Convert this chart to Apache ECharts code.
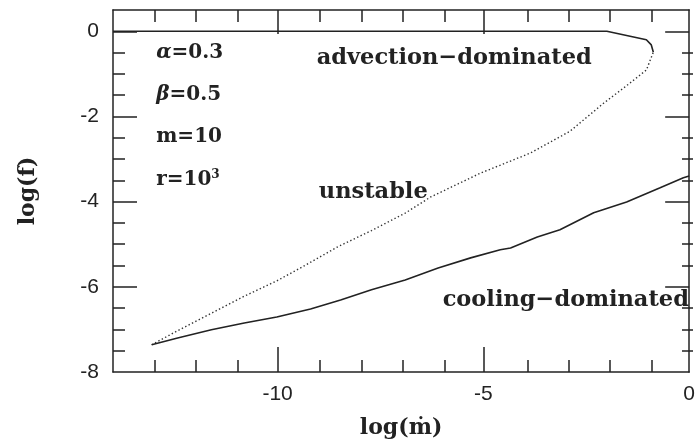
<!DOCTYPE html>
<html>
<head>
<meta charset="utf-8">
<script src="https://cdn.jsdelivr.net/npm/echarts@6/dist/echarts.min.js"></script>
<style>
  html, body { margin: 0; padding: 0; background: #fff; }
  #chart { width: 698px; height: 444px; }
</style>
</head>
<body>
<div id="chart"></div>
<script>
// Axis ranges and tick positions
const xRange = [-14, 0];
const yRange = [-8, 0.5];
const xTickLabels = [-10, -5, 0];
const xMajorTicks = [-10, -5];
const xMinorTicks = [-13, -12, -11, -9, -8, -7, -6, -4, -3, -2, -1];
const yTickLabels = [-8, -6, -4, -2, 0];
const yMajorTicks = [-6, -4, -2, 0];
const yMinorTicks = [-7.5, -7, -6.5, -5.5, -5, -4.5, -3.5, -3, -2.5, -1.5, -1, -0.5];

// Upper boundary (solid): edge of the advection-dominated region
const advectionEdge = [
  [-14, 0], [-2.0, 0], [-1.04, -0.2], [-0.92, -0.32], [-0.87, -0.49]
];
// Middle boundary (dotted): edge of the unstable region
const unstableEdge = [
  [-13.06, -7.36], [-12.43, -7.03], [-11.61, -6.62], [-10.81, -6.22],
  [-10.02, -5.86], [-9.45, -5.56], [-8.52, -5.05], [-7.72, -4.68],
  [-6.90, -4.27], [-6.28, -3.89], [-5.07, -3.33], [-3.86, -2.86],
  [-2.90, -2.35], [-2.08, -1.69], [-1.55, -1.30], [-1.04, -0.91],
  [-0.87, -0.49]
];
// Lower boundary (solid): edge of the cooling-dominated region
const coolingEdge = [
  [-13.06, -7.36], [-12.43, -7.20], [-11.61, -7.01], [-10.81, -6.85],
  [-10.02, -6.71], [-9.20, -6.52], [-8.47, -6.31], [-7.72, -6.07],
  [-6.90, -5.84], [-6.10, -5.56], [-5.31, -5.32], [-4.59, -5.13],
  [-4.34, -5.09], [-3.69, -4.83], [-3.14, -4.66], [-2.32, -4.26],
  [-1.52, -4.01], [-0.72, -3.68], [-0.14, -3.44], [0, -3.40]
];

// Region and parameter annotations, placed in data coordinates
const regionLabels = [
  { text: 'advection\u2212dominated', at: [-9.05, -0.63] },
  { text: 'unstable', at: [-9.0, -3.77] },
  { text: 'cooling\u2212dominated', at: [-5.99, -6.31] }
];
const paramLabels = [
  { text: '{i|\u03b1}=0.3', at: [-12.95, -0.51] },
  { text: '{i|\u03b2}=0.5', at: [-12.95, -1.50] },
  { text: 'm=10', at: [-12.95, -2.48] },
  { text: 'r=10{s|3}', at: [-12.95, -3.49] }
];

const INK = '#222';
const SERIF = '"DejaVu Serif", "Liberation Serif", serif';
const SANS = '"Liberation Sans", Arial, sans-serif';
const plotBox = { left: 113, right: 5, top: 10, bottom: 72 };

// One value axis carrying a given set of inward ticks, pinned to the box edge
function tickAxis(kind, gridIndex, position, ticks, len, opts) {
  const base = {
    type: 'value',
    gridIndex: gridIndex,
    position: position,
    min: kind === 'x' ? xRange[0] : yRange[0],
    max: kind === 'x' ? xRange[1] : yRange[1],
    splitLine: { show: false },
    axisLine: { show: false, onZero: false },
    axisTick: {
      show: true, inside: true, length: len,
      customValues: ticks,
      lineStyle: { color: INK, width: 1.5 }
    },
    axisLabel: { show: false }
  };
  return Object.assign(base, opts || {});
}
const frameLine = { show: true, onZero: false, lineStyle: { color: INK, width: 1.5 } };

const chart = echarts.init(document.getElementById('chart'), null, { renderer: 'canvas' });

const option = {
  backgroundColor: '#fff',
  animation: false,
  // grid 0: frame, long ticks, labels and curves; grid 1: short ticks on the same box
  grid: [Object.assign({}, plotBox), Object.assign({}, plotBox)],
  xAxis: [
    tickAxis('x', 0, 'bottom', xMajorTicks, 25, {
      axisLine: frameLine,
      axisLabel: {
        show: true, customValues: xTickLabels, margin: 12,
        fontFamily: SANS, fontSize: 21, color: INK
      },
      name: 'log(\u1e41)', nameLocation: 'middle', nameGap: 45,
      nameTextStyle: { fontFamily: SERIF, fontSize: 22, fontWeight: 'bold', color: INK }
    }),
    tickAxis('x', 0, 'top', xMajorTicks, 24, { axisLine: frameLine }),
    tickAxis('x', 1, 'bottom', xMinorTicks, 12),
    tickAxis('x', 1, 'top', xMinorTicks, 12)
  ],
  yAxis: [
    tickAxis('y', 0, 'left', yMajorTicks, 24, {
      axisLine: frameLine,
      axisLabel: {
        show: true, customValues: yTickLabels, margin: 14,
        fontFamily: SANS, fontSize: 21, color: INK
      },
      name: 'log(f)', nameLocation: 'middle', nameGap: 74, nameRotate: 90,
      nameTextStyle: { fontFamily: SERIF, fontSize: 22, fontWeight: 'bold', color: INK }
    }),
    tickAxis('y', 0, 'right', yMajorTicks, 24, { axisLine: frameLine }),
    tickAxis('y', 1, 'left', yMinorTicks, 12),
    tickAxis('y', 1, 'right', yMinorTicks, 11)
  ],
  series: [
    {
      name: 'advection', type: 'line', data: advectionEdge,
      xAxisIndex: 0, yAxisIndex: 0, showSymbol: false, smooth: false,
      lineStyle: { color: INK, width: 1.6 }
    },
    {
      name: 'unstable', type: 'line', data: unstableEdge,
      xAxisIndex: 0, yAxisIndex: 0, showSymbol: false, smooth: false,
      lineStyle: { color: '#333', width: 1.4, type: [1.4, 2.4] }
    },
    {
      name: 'cooling', type: 'line', data: coolingEdge,
      xAxisIndex: 0, yAxisIndex: 0, showSymbol: false, smooth: false,
      lineStyle: { color: INK, width: 1.6 }
    }
  ]
};
chart.setOption(option);

// Text annotations positioned through the grid's coordinate system
const toPx = p => chart.convertToPixel({ xAxisIndex: 0, yAxisIndex: 0 }, p);
const graphics = [];
regionLabels.forEach(l => {
  const p = toPx(l.at);
  graphics.push({
    type: 'text', x: p[0], y: p[1],
    style: {
      text: l.text, fontFamily: SERIF, fontSize: 22.5, fontWeight: 'bold', fill: INK,
      textAlign: 'left', textVerticalAlign: 'middle'
    }
  });
});
paramLabels.forEach(l => {
  const p = toPx(l.at);
  graphics.push({
    type: 'text', x: p[0], y: p[1],
    style: {
      text: l.text, fontFamily: SERIF, fontSize: 20, fontWeight: 'bold', fill: INK,
      textAlign: 'left', textVerticalAlign: 'middle',
      rich: {
        i: { fontFamily: SERIF, fontSize: 20, fontWeight: 'bold', fontStyle: 'italic', fill: INK },
        s: { fontFamily: SERIF, fontSize: 12, fontWeight: 'bold', fill: INK, verticalAlign: 'top', padding: [0, 0, 10, 0] }
      }
    }
  });
});
chart.setOption({ graphic: graphics });
</script>
</body>
</html>
